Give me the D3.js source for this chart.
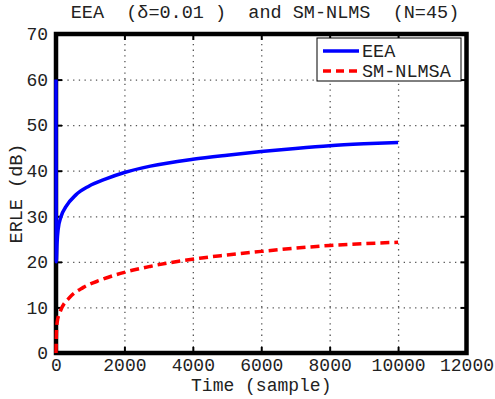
<!DOCTYPE html>
<html>
<head>
<meta charset="utf-8">
<script src="https://cdn.jsdelivr.net/npm/d3@7"></script>
<style>
  body { margin: 0; background: #fff; }
  text { font-family: "Liberation Mono", "Courier New", monospace; fill: #222; }
</style>
</head>
<body>
<div id="chart"></div>
<script>
// Data
const eeaTime = [0, 8, 30, 60, 146, 290, 580, 960, 1460, 2000, 2760, 4000, 5000, 6000, 7000, 8000, 9000, 10000];
const eeaErle = [60, 20, 24, 27, 29.9, 32.1, 34.7, 36.6, 38.2, 39.6, 41.0, 42.5, 43.4, 44.2, 44.9, 45.5, 45.9, 46.2];
const nlmsTime = [0, 15, 40, 120, 400, 800, 1300, 2000, 2750, 4200, 5000, 6000, 7000, 8000, 9000, 10000];
const nlmsErle = [0, 5, 7, 9, 12.2, 14.4, 16, 17.7, 19, 20.8, 21.5, 22.3, 23, 23.6, 24, 24.3];
const xTicks = [0, 2000, 4000, 6000, 8000, 10000, 12000];
const yTicks = [0, 10, 20, 30, 40, 50, 60, 70];
const seriesNames = ["EEA", "SM-NLMSA"];

const width = 495, height = 399;
const plotLeft = 56, plotRight = 466.5, plotTop = 34, plotBottom = 353;

const svg = d3.select("#chart")
    .append("svg")
    .attr("width", width)
    .attr("height", height);

const x = d3.scaleLinear().domain([0, 12000]).range([plotLeft, plotRight]);
const y = d3.scaleLinear().domain([0, 70]).range([plotBottom, plotTop]);

// dotted grid
svg.append("g")
    .attr("transform", "translate(0," + plotBottom + ")")
    .call(d3.axisBottom(x).tickValues(xTicks.slice(1, -1)).tickSize(-(plotBottom - plotTop)).tickFormat(""))
    .call(g => g.select(".domain").remove())
    .selectAll("line")
    .attr("stroke", "#555")
    .attr("stroke-width", 1.3)
    .attr("stroke-dasharray", "1.3,4.4");

svg.append("g")
    .attr("transform", "translate(" + plotLeft + ",0)")
    .call(d3.axisLeft(y).tickValues(yTicks.slice(1, -1)).tickSize(-(plotRight - plotLeft)).tickFormat(""))
    .call(g => g.select(".domain").remove())
    .selectAll("line")
    .attr("stroke", "#555")
    .attr("stroke-width", 1.3)
    .attr("stroke-dasharray", "1.3,4.4");

// axes with inward ticks
const tickLen = 6;
const fmt = d3.format("d");
const xAxis = svg.append("g")
    .attr("transform", "translate(0," + plotBottom + ")")
    .call(d3.axisBottom(x).tickValues(xTicks).tickFormat(fmt).tickSizeInner(-tickLen).tickSizeOuter(0));
const yAxis = svg.append("g")
    .attr("transform", "translate(" + plotLeft + ",0)")
    .call(d3.axisLeft(y).tickValues(yTicks).tickFormat(fmt).tickSizeInner(-tickLen).tickSizeOuter(0).tickPadding(8));
svg.append("g")
    .attr("transform", "translate(0," + plotTop + ")")
    .call(d3.axisTop(x).tickValues(xTicks).tickSizeInner(-tickLen).tickSizeOuter(0).tickFormat(""));
svg.append("g")
    .attr("transform", "translate(" + plotRight + ",0)")
    .call(d3.axisRight(y).tickValues(yTicks).tickSizeInner(-tickLen).tickSizeOuter(0).tickFormat(""));

svg.selectAll(".domain").remove();
svg.selectAll(".tick line").filter(function () { return !this.getAttribute("stroke-dasharray"); })
    .attr("stroke", "#000").attr("stroke-width", 2);
svg.selectAll(".tick text")
    .style("font-family", "'Liberation Mono', monospace")
    .style("font-size", "18px")
    .attr("fill", "#222");
xAxis.selectAll("text").attr("dy", null).attr("y", 18);

// frame
svg.append("rect")
    .attr("x", plotLeft).attr("y", plotTop)
    .attr("width", plotRight - plotLeft).attr("height", plotBottom - plotTop)
    .attr("fill", "none").attr("stroke", "#000").attr("stroke-width", 4.5);

// lines
const erleLine = d3.line()
    .x(d => x(d[0])).y(d => y(d[1]))
    .curve(d3.curveMonotoneX);

svg.append("path")
    .datum(d3.zip(eeaTime, eeaErle))
    .attr("d", erleLine)
    .attr("fill", "none")
    .attr("stroke", "#0000ff")
    .attr("stroke-width", 3.5);

svg.append("path")
    .datum(d3.zip(nlmsTime, nlmsErle))
    .attr("d", erleLine)
    .attr("fill", "none")
    .attr("stroke", "#ff0000")
    .attr("stroke-width", 3.5)
    .attr("stroke-dasharray", "9,5");

// title and labels
svg.append("text")
    .attr("x", 265).attr("y", 18)
    .attr("text-anchor", "middle")
    .style("font-size", "18.5px")
    .text("EEA\u00A0\u00A0(\u03B4=0.01\u00A0)\u00A0\u00A0and\u00A0SM-NLMS\u00A0\u00A0(N=45)");

svg.append("text")
    .attr("x", (plotLeft + plotRight) / 2).attr("y", 391)
    .attr("text-anchor", "middle")
    .style("font-size", "18px")
    .text("Time\u00A0(sample)");

svg.append("text")
    .attr("transform", "translate(22," + ((plotTop + plotBottom) / 2) + ") rotate(-90)")
    .attr("text-anchor", "middle")
    .style("font-size", "18.5px")
    .text("ERLE\u00A0(dB)");

// legend
const legend = svg.append("g");
legend.append("rect")
    .attr("x", 317).attr("y", 38)
    .attr("width", 144).attr("height", 43)
    .attr("fill", "#fff").attr("stroke", "#000").attr("stroke-width", 1);

const legendColors = ["#0000ff", "#ff0000"];
const legendDash = [null, "8,5"];
seriesNames.forEach((name, i) => {
    const ly = 51 + i * 20;
    legend.append("line")
        .attr("x1", 323).attr("x2", 359)
        .attr("y1", ly).attr("y2", ly)
        .attr("stroke", legendColors[i])
        .attr("stroke-width", 3.5)
        .attr("stroke-dasharray", legendDash[i]);
    legend.append("text")
        .attr("x", 362).attr("y", ly + 6)
        .style("font-size", "18.5px")
        .text(name);
});
</script>
</body>
</html>
